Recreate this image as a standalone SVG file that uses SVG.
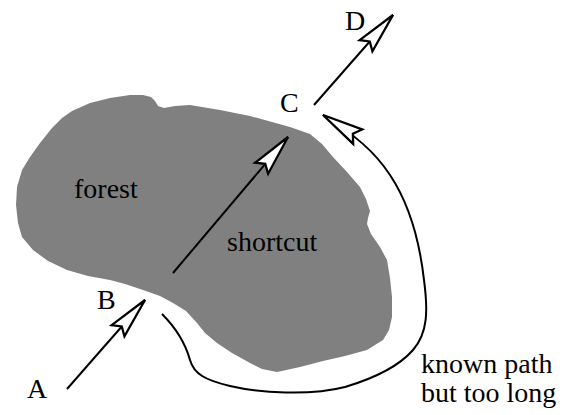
<svg xmlns="http://www.w3.org/2000/svg" width="578" height="415" viewBox="0 0 578 415">
<style>
.lbl{font-family:"Liberation Serif","Times New Roman",serif;font-size:28px;fill:#000}
.ln{fill:none;stroke:#000;stroke-width:2;marker-end:url(#ah)}
</style>
<defs>
<marker id="ah" markerUnits="userSpaceOnUse" orient="auto" markerWidth="50" markerHeight="30" refX="0" refY="0" viewBox="-40 -12 44 24" overflow="visible">
<path d="M0,0 L-36,-7.5 L-31,0 L-36,7.5 Z" fill="#fff" stroke="#000" stroke-width="2" stroke-linejoin="miter"/>
</marker>
</defs>
<rect width="578" height="415" fill="#fff"/>
<g id="forest">
<path fill="#808080" d="M72,111 L90,103 L110,98 L130,95 L143,95 L151,97 L155,101 L158,106 L164,108 L175,106 L190,105 L220,110 L250,116 L290,127 L310,134 L322,144 L333,157 L347,172 L360,187 L366,199 L370,211 L368,218 L367,224 L371,234 L380,247 L387,260 L390,278 L392,297 L392,317 L389,330 L383,340 L367,350 L345,356 L323,361 L300,367 L277,372 L262,369 L250,363 L232,353 L217,343 L205,333 L197,323 L186,311 L173,303 L160,296 L143,290 L125,284 L110,280 L88,276 L67,270 L48,261 L33,250 L22,237 L18,223 L16,205 L17,187 L22,170 L30,157 L40,143 L52,128 L62,118 Z"/>
<text class="lbl" x="74" y="198">forest</text>
<text class="lbl" x="227" y="251">shortcut</text>
</g>
<g id="A"><text class="lbl" x="27" y="398">A</text></g>
<g id="B"><text class="lbl" x="97" y="309">B</text></g>
<g id="C"><text class="lbl" x="280" y="112">C</text></g>
<g id="D"><text class="lbl" x="345" y="30">D</text></g>
<g id="note"><text class="lbl" x="421" y="373">known path</text><text class="lbl" x="421" y="402">but too long</text></g>
<g id="connectors">
<path class="ln" d="M67,389 L145,300"/>
<path class="ln" d="M173,273 L288,137"/>
<path class="ln" d="M314,105 L393,15"/>
<path class="ln" d="M162,314 C176,328 185,342 190,360 C194,374 205,380 230,386 C260,393 310,396 345,387 C375,378 400,365 413,350 C428,333 428,310 424,280 C420,245 410,205 390,175 C375,152 355,135 323,115"/>
</g>
</svg>
